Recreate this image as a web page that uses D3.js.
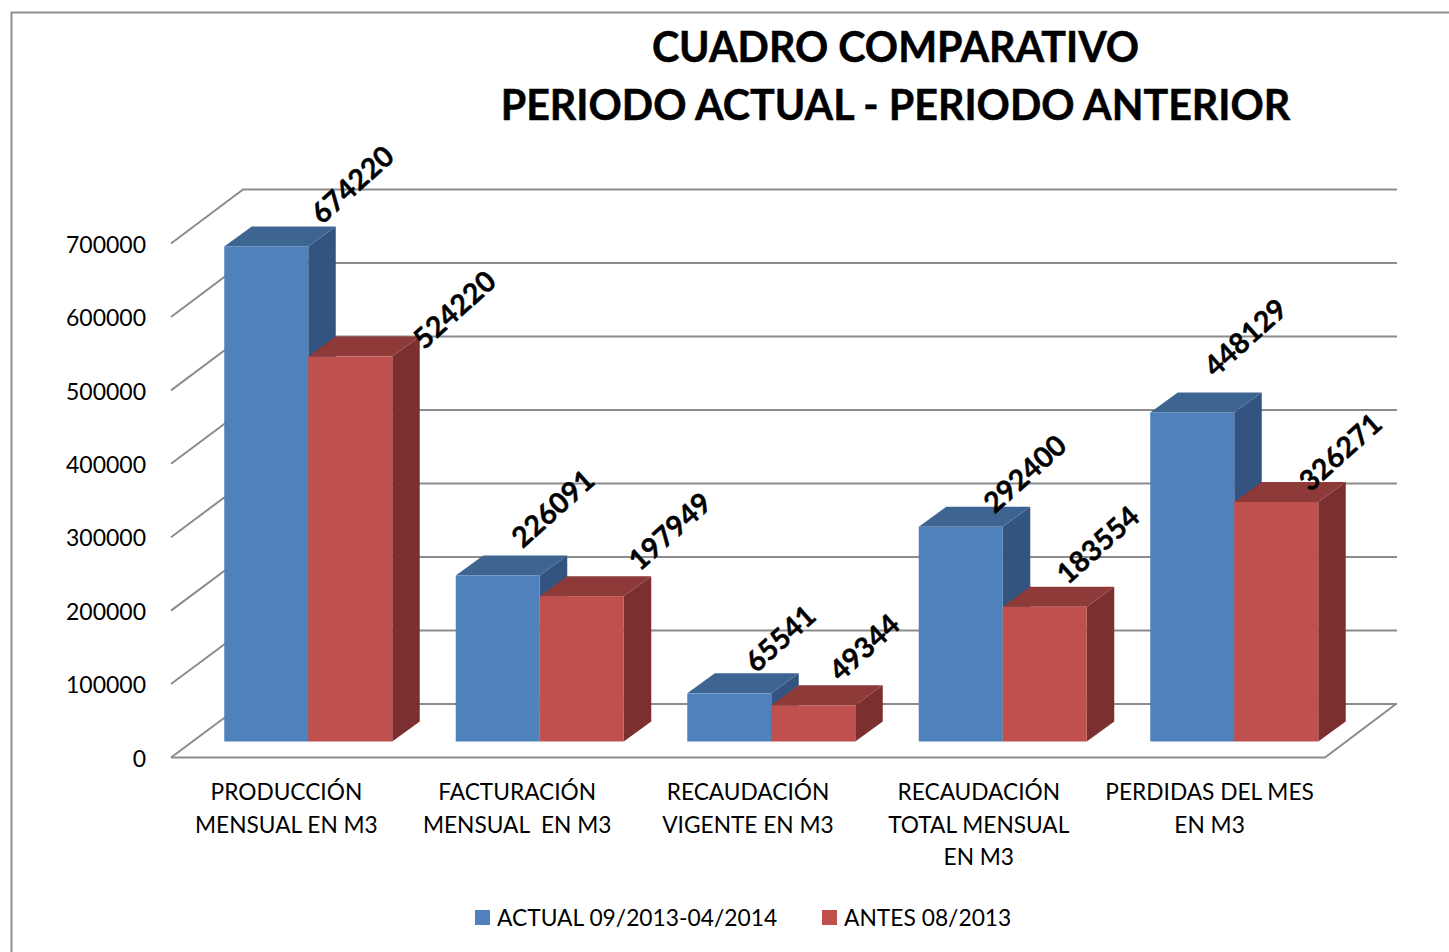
<!DOCTYPE html>
<html>
<head>
<meta charset="utf-8">
<script src="https://cdn.jsdelivr.net/npm/d3@7"></script>
<style>
  html, body { margin: 0; padding: 0; background: #fff; }
  svg { display: block; }
  text { font-family: Lato, "Open Sans", sans-serif; fill: #000; }
</style>
</head>
<body>
<svg id="drawing_region"></svg>
<script>
const categories = [
    ["PRODUCCIÓN", "MENSUAL EN M3"],
    ["FACTURACIÓN", "MENSUAL  EN M3"],
    ["RECAUDACIÓN", "VIGENTE EN M3"],
    ["RECAUDACIÓN", "TOTAL MENSUAL", "EN M3"],
    ["PERDIDAS DEL MES", "EN M3"]
];
const actual = [674220, 226091, 65541, 292400, 448129];
const antes = [524220, 197949, 49344, 183554, 326271];
const seriesNames = ["ACTUAL 09/2013-04/2014", "ANTES 08/2013"];
const titleLines = ["CUADRO COMPARATIVO", "PERIODO ACTUAL - PERIODO ANTERIOR"];
const yTicks = [0, 100000, 200000, 300000, 400000, 500000, 600000, 700000];

// the labels were placed by hand in the original, so each one has its own offset
const actualLabelOffset = [[44, -62], [13, -67], [9, -55], [22, -53], [11, -75]];
const antesLabelOffset = [[62, -47], [46, -65], [9, -58], [11, -62], [22, -50]];

const width = 1449, height = 952;
const depth = { x: 27.5, y: -20 };
const barWidth = 84;

const svg = d3.select("#drawing_region").attr("width", width).attr("height", height);

// chart frame, only top and left show
svg.append("path")
    .attr("d", `M1449,12.5 H11.5 V952`)
    .attr("fill", "none").attr("stroke", "#8f8f8f").attr("stroke-width", 2);

// scales: front of the floor, back wall and the plane the bars stand on
const yFront = d3.scaleLinear().domain([0, 700000]).range([757.5, 243.5]);
const yBack = d3.scaleLinear().domain([0, 700000]).range([704, 189.5]);
const yBar = d3.scaleLinear().domain([0, 700000]).range([741.5, 227.5]);
const xBar = d3.scaleBand().domain(d3.range(5)).range([192.5, 1350]);
const xLabel = d3.scaleBand().domain(d3.range(5)).range([171, 1325]);

// grid
const grid = svg.append("g").attr("fill", "none").attr("stroke", "#8c8c8c").attr("stroke-width", 2);
yTicks.forEach(t => {
    grid.append("path").attr("d", `M171,${yFront(t)} L243,${yBack(t)} H1397`);
});
grid.append("path").attr("d", `M171,${yFront(0)} H1325 L1396,${yBack(0)}`);

// y axis
const yAxis = d3.axisLeft(yFront).tickValues(yTicks).tickSize(0).tickPadding(0).tickFormat(d3.format("d"));
const yAxisGroup = svg.append("g").attr("transform", "translate(146,0)").call(yAxis);
yAxisGroup.select(".domain").remove();
yAxisGroup.selectAll("text").attr("font-size", 23).attr("font-family", "Lato").attr("dy", "0.38em");

// bars
const poly = pts => pts.map(p => p.join(",")).join(" ");

function drawBar(g, x0, value, colors) {
    const x1 = x0 + barWidth, top = yBar(value), base = yBar(0);
    g.append("polygon").attr("fill", colors.side)
        .attr("points", poly([[x1, top], [x1 + depth.x, top + depth.y], [x1 + depth.x, base + depth.y], [x1, base]]));
    g.append("polygon").attr("fill", colors.top)
        .attr("points", poly([[x0, top], [x0 + depth.x, top + depth.y], [x1 + depth.x, top + depth.y], [x1, top]]));
    g.append("rect").attr("fill", colors.front)
        .attr("x", x0).attr("y", top).attr("width", barWidth).attr("height", base - top);
}

const blue = { front: "#4f81bd", top: "#3e6592", side: "#335480" };
const red = { front: "#c0504d", top: "#8e3a38", side: "#7b302f" };

const bars = svg.append("g");
categories.forEach((c, i) => {
    const mid = xBar(i) + xBar.bandwidth() / 2;
    drawBar(bars, mid - barWidth, actual[i], blue);
    drawBar(bars, mid, antes[i], red);
});

// data labels
const labels = svg.append("g").attr("font-size", 28.5).attr("font-weight", 700);
function drawLabels(values, offsets, right) {
    values.forEach((v, i) => {
        const cx = right(i) + offsets[i][0], cy = yBar(v) + offsets[i][1];
        labels.append("text")
            .attr("transform", `translate(${cx},${cy}) rotate(-42)`)
            .attr("text-anchor", "middle").attr("dy", "0.36em")
            .attr("stroke", "#000").attr("stroke-width", 0.4)
            .text(v);
    });
}
drawLabels(actual, actualLabelOffset, i => xBar(i) + xBar.bandwidth() / 2);
drawLabels(antes, antesLabelOffset, i => xBar(i) + xBar.bandwidth() / 2 + barWidth);

// category labels
categories.forEach((lines, i) => {
    const t = svg.append("text")
        .attr("text-anchor", "middle").attr("font-size", 22.7)
        .style("white-space", "pre");
    lines.forEach((line, k) => {
        t.append("tspan")
            .attr("x", xLabel(i) + xLabel.bandwidth() / 2)
            .attr("y", 800 + k * 32.5)
            .text(line);
    });
});

// title
svg.append("g").selectAll("text").data(titleLines).join("text")
    .attr("x", 895.5).attr("y", (d, i) => 62 + i * 58)
    .attr("text-anchor", "middle").attr("font-size", 41.2).attr("font-weight", 700)
    .attr("stroke", "#000").attr("stroke-width", 0.5)
    .text(d => d);

// legend
const legendX = [475, 822];
seriesNames.forEach((name, i) => {
    svg.append("rect").attr("x", legendX[i]).attr("y", 910).attr("width", 15).attr("height", 15)
        .attr("fill", i === 0 ? blue.front : red.front);
    svg.append("text").attr("x", legendX[i] + 22).attr("y", 926).attr("font-size", 22.8).text(name);
});
</script>
</body>
</html>
